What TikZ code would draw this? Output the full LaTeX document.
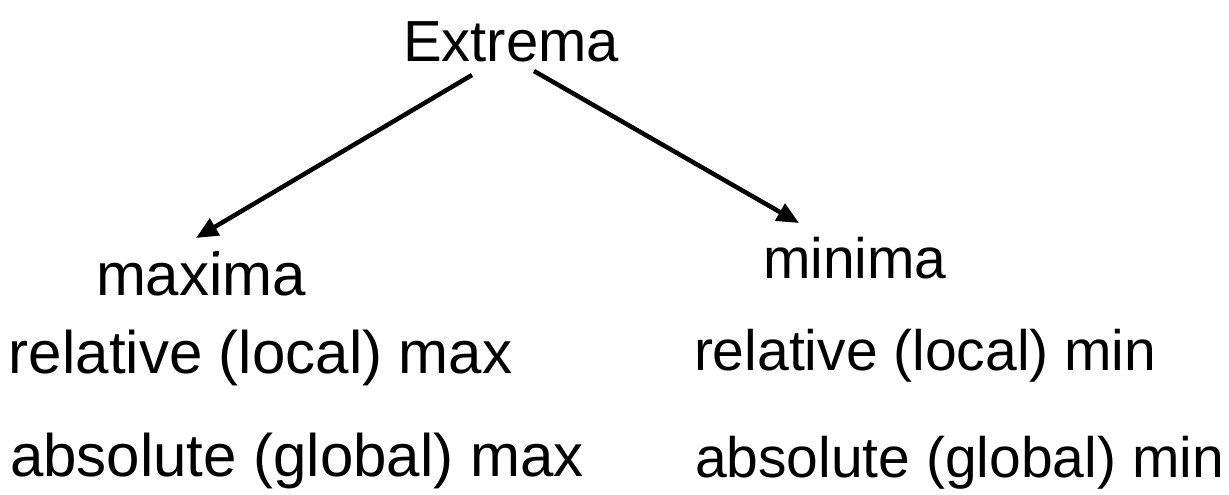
\documentclass[tikz,border=0pt]{standalone}
\usepackage{fontspec}
\setmainfont{Liberation Sans}
\usetikzlibrary{arrows.meta}
\begin{document}
\begin{tikzpicture}[x=1pt,y=-1pt,
  lbl/.style={anchor=base west,inner sep=0pt,outer sep=0pt,font=\fontsize{58}{70}\selectfont},
  lblL/.style={lbl,font=\fontsize{60}{72}\selectfont},
  lblR/.style={lbl,font=\fontsize{57}{68}\selectfont},
  arr/.style={line width=4.5pt,-{Triangle[length=22pt,width=19pt]}}]
\useasboundingbox (0,0) rectangle (1229,495);
\node[lbl] (ext) at (403,62) {Extrema};
\node[lblL] (maxn) at (96,295) {maxima};
\node[lblL] (relmax) at (9,373) {relative (local) max};
\node[lblL] (absmax) at (10,476) {absolute (global) max};
\node[lblR] (minn) at (763,278) {minima};
\node[lblR] (relmin) at (694,370) {relative (local) min};
\node[lblR] (absmin) at (695,477) {absolute (global) min};
\coordinate (e1) at (472,75);
\coordinate (e2) at (534,71);
\coordinate (t1) at (196,238);
\coordinate (t2) at (799,223);
\draw[arr] (e1) -- (t1);
\draw[arr] (e2) -- (t2);
\fill (215,251) rectangle (219,255);
\end{tikzpicture}
\end{document}
